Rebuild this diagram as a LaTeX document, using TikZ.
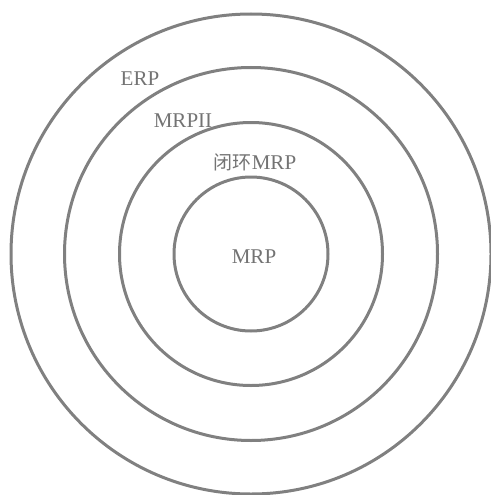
\documentclass[tikz,border=0pt]{standalone}
\usepackage{fontspec}
\setmainfont{Liberation Serif}
\newfontfamily\cjk{Noto Sans CJK SC}
\usepackage{tikz}
\usetikzlibrary{positioning}

\begin{document}
\begin{tikzpicture}[
  x=1pt, y=-1pt,
  font=\fontsize{21}{23}\selectfont,
  ring/.style={draw=black!50, line width=3pt, circle, inner sep=0pt},
  lbl/.style={text=black!55, inner sep=1pt}
]
\useasboundingbox (0,0) rectangle (490,495);

% concentric layers
\node[ring, minimum size=480pt] (erp)    at (251,254) {};
\node[ring, minimum size=373pt] (mrpii)  at (251,254) {};
\node[ring, minimum size=263pt] (closed) at (251,254) {};
\node[ring, minimum size=154pt] (mrp)    at (251,254) {};

\node[lbl] (terp)    at (140,79)  {ERP};
\node[lbl] (tmrpii)  at (183,121) {MRPII};
\node[lbl] (tclosed) at (255,162) {{\cjk\fontsize{19}{21}\selectfont 闭环}MRP};
\node[lbl] (tmrp)    at (254,257) {MRP};

\end{tikzpicture}
\end{document}
